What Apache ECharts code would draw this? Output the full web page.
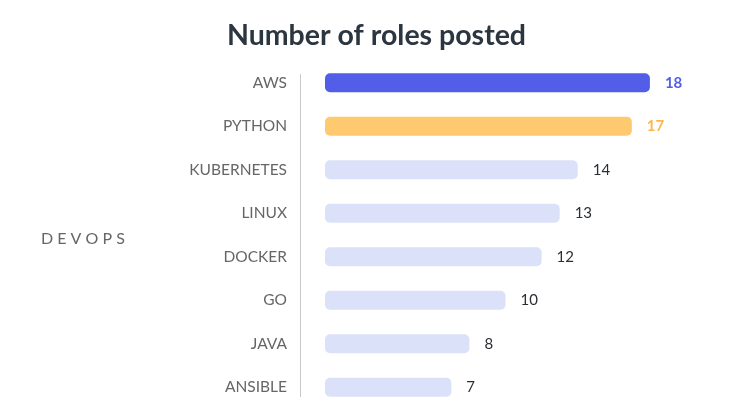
<!DOCTYPE html>
<html>
<head>
<meta charset="utf-8">
<script src="https://cdn.jsdelivr.net/npm/echarts@6/dist/echarts.min.js"></script>
<style>html,body{margin:0;padding:0;background:#fff;}#c{width:753px;height:410px;}</style>
</head>
<body>
<div id="c"></div>
<script>
const categories = ['AWS', 'PYTHON', 'KUBERNETES', 'LINUX', 'DOCKER', 'GO', 'JAVA', 'ANSIBLE'];
const values = [18, 17, 14, 13, 12, 10, 8, 7];
const barColors = ['#535ee8', '#ffc970', '#dbe1f8', '#dbe1f8', '#dbe1f8', '#dbe1f8', '#dbe1f8', '#dbe1f8'];
const labelColors = ['#535ee8', '#fbb74a', '#2b2f33', '#2b2f33', '#2b2f33', '#2b2f33', '#2b2f33', '#2b2f33'];
const groupName = 'D E V O P S';
const titleText = 'Number of roles posted';

const chart = echarts.init(document.getElementById('c'), null, {renderer: 'canvas'});
chart.setOption({
  animation: false,
  title: [{
    text: titleText,
    left: 'center',
    top: 16,
    textStyle: {fontFamily: 'Lato', fontWeight: 'bold', fontSize: 28.5, color: '#2c3640'}
  }, {
    text: groupName,
    left: 36,
    top: 226,
    textStyle: {fontFamily: 'Lato', fontWeight: 'normal', fontSize: 16, color: '#666'}
  }],
  graphic: [{
    type: 'line',
    shape: {x1: 300.5, y1: 74, x2: 300.5, y2: 397},
    style: {stroke: '#c8c8c8', lineWidth: 1}
  }],
  grid: {left: 325, top: 61, height: 348, width: 361},
  xAxis: {type: 'value', min: 0, max: 20, show: false},
  yAxis: {
    type: 'category',
    data: categories,
    inverse: true,
    offset: 25,
    axisLine: {show: false},
    axisTick: {show: false},
    axisLabel: {margin: 13, fontFamily: 'Lato', fontSize: 15.5, color: '#666'}
  },
  series: [{
    type: 'bar',
    barWidth: 19,
    data: values.map((v, i) => ({
      value: v,
      itemStyle: {color: barColors[i], borderRadius: 5},
      label: {color: labelColors[i], fontWeight: i < 2 ? 'bold' : 'normal'}
    })),
    label: {show: true, position: 'right', distance: 15, fontFamily: 'Lato', fontSize: 15}
  }]
});
</script>
</body>
</html>
